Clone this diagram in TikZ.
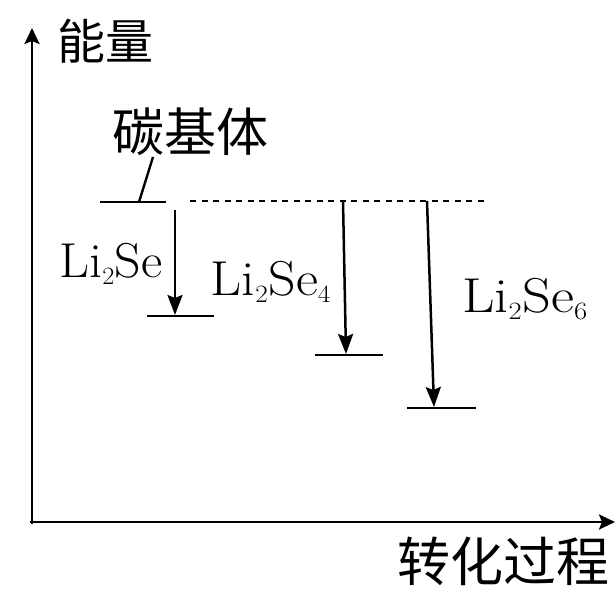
\documentclass[tikz,border=0pt]{standalone}
\usepackage{fontspec}
\newfontfamily\cjk{Noto Sans CJK SC}
\usetikzlibrary{arrows.meta}
\begin{document}
\begin{tikzpicture}[x=1pt,y=-1pt,
  axis/.style={line width=2.6pt,-{Stealth[length=16pt,width=15pt,inset=3pt]}},
  level/.style={line width=2.8pt},
  drop/.style={line width=2.5pt,-{Stealth[length=20pt,width=15pt,inset=3pt]}},
  cjklabel/.style={font=\cjk,inner sep=0pt},
  species/.style={font=\fontsize{49}{52}\selectfont,inner sep=0pt}]
\useasboundingbox[fill=white] (0,0) rectangle (615,591);
% axes
\coordinate (o) at (32,524);
\coordinate (ytop) at (32,28);
\coordinate (xend) at (615,522);
\draw[axis] (o) -- (ytop);
\draw[axis] (30,522) -- (xend);
% axis labels
\node[cjklabel] (ylab) at (105,41) {\fontsize{48}{50}\selectfont 能量};
\node[cjklabel] (xlab) at (503,561) {\fontsize{53}{55}\selectfont 转化过程};
\node[cjklabel] (carbon) at (190,132) {\fontsize{52}{54}\selectfont 碳基体};
% carbon level
\coordinate (c1) at (100,202);
\coordinate (c2) at (166,202);
\draw[level] (c1) -- (c2);
\coordinate (lt) at (153,157);
\coordinate (lb) at (139,202);
\draw[line width=2.4pt] (lt) -- (lb);
\coordinate (d1) at (190,201);
\coordinate (d2) at (487,201);
\draw[line width=2.2pt,dash pattern=on 6pt off 5.5pt] (d1) -- (d2);
% Li2Se
\coordinate (a1s) at (175,210);
\coordinate (a1e) at (175,315);
\draw[drop] (a1s) -- (a1e);
\coordinate (l1a) at (147,316);
\coordinate (l1b) at (214,316);
\draw[level] (l1a) -- (l1b);
\node[species] (s1) at (111,264) {\scalebox{1.06}[1]{Li$_2$Se}};
% Li2Se4
\coordinate (a2s) at (343,201);
\coordinate (a2e) at (346,354);
\draw[drop] (a2s) -- (a2e);
\coordinate (l2a) at (315,355);
\coordinate (l2b) at (383,355);
\draw[level] (l2a) -- (l2b);
\node[species] (s2) at (271,282) {\scalebox{1.1}[1]{Li$_2$Se$_4$}};
% Li2Se6
\coordinate (a3s) at (427,201);
\coordinate (a3e) at (434,407);
\draw[drop] (a3s) -- (a3e);
\coordinate (l3a) at (407,408);
\coordinate (l3b) at (476,408);
\draw[level] (l3a) -- (l3b);
\node[species] (s3) at (525,299) {\scalebox{1.15}[1]{Li$_2$Se$_6$}};
\end{tikzpicture}
\end{document}
